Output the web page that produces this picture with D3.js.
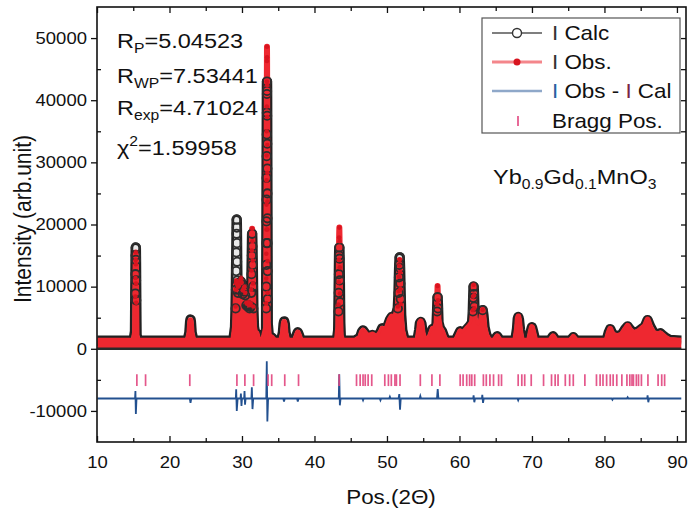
<!DOCTYPE html>
<html lang="en">
<head>
<meta charset="utf-8">
<title>Yb0.9Gd0.1MnO3 Rietveld refinement</title>
<script src="https://cdn.jsdelivr.net/npm/d3@7"></script>
<style>
  body { margin: 0; background: #fff; }
  svg { display: block; font-family: "Liberation Sans", Arial, sans-serif; }
  .axis text { font-size: 16.5px; fill: #111; }
  .axis line { stroke: #111; stroke-width: 1.3px; }
  .axis path { display: none; }
</style>
</head>
<body>
<script>

// ---- data ----
// 2theta sample points of the profile (one line per peak group)
var twoTheta = [
  10.05, 12, 14,
  15.05, 15.25, 15.27, 15.29, 15.31, 15.33, 15.35, 15.37, 15.39, 15.41, 15.43, 15.45, 15.65,
  17, 19, 21,
  22.5, 22.75, 22.85, 22.9, 22.95, 23.05, 23.3,
  25, 27, 28.5,
  28.8, 29.05, 29.12, 29.16, 29.19, 29.22, 29.25, 29.27, 29.29, 29.31, 29.33, 29.36, 29.45, 29.6, 29.75, 29.85, 29.95, 30.1, 30.25, 30.35, 30.45, 30.6, 30.8, 30.9, 31.05, 31.2, 31.28, 31.32, 31.36, 31.40, 31.44, 31.48, 31.52, 31.56, 31.65, 31.85, 32.0, 32.15, 32.35,
  32.9, 33.1, 33.33, 33.34, 33.35, 33.36, 33.37, 33.38, 33.39, 33.40, 33.41, 33.42, 33.43, 33.44, 33.45, 33.46, 33.47, 33.48, 33.49, 33.50, 33.51, 33.52, 33.53, 33.54, 33.55, 33.7, 34.1, 34.5,
  35.4, 35.65, 35.75, 35.82, 35.9, 36.0, 36.25, 37.3, 37.55, 37.7, 37.85, 38.1,
  40, 42,
  43.1, 43.28, 43.31, 43.34, 43.37, 43.40, 43.43, 43.46, 43.49, 43.52, 43.55, 43.62, 43.8,
  44.5,
  45.6, 46.3, 46.55, 46.7, 46.85, 47.2, 47.6, 48.0, 48.25, 48.6, 49.1, 49.35, 49.6, 50.0, 50.4, 50.65, 50.9, 51.2, 51.5, 51.6, 51.65, 51.7, 51.75, 51.8, 51.85, 51.9, 51.95, 52.1, 52.4, 52.8,
  54.2, 54.45, 54.55, 54.65, 54.75, 54.9, 55.2,
  55.6, 56.0, 56.3, 56.6, 56.85, 56.92, 56.98, 57.04, 57.1, 57.3, 57.6, 57.9, 58.2,
  59.5, 59.9, 60.1, 60.35, 60.7, 61.0, 61.4, 61.75, 61.85, 61.9, 61.95, 62.0, 62.05, 62.1, 62.3, 62.6, 62.95, 63.1, 63.2, 63.3, 63.45, 63.7, 64.1,
  64.8, 65.2, 65.6, 67.7, 67.95, 68.05, 68.12, 68.2, 68.35, 68.6, 69.6, 69.85, 70.0, 70.15, 70.45, 72.5, 72.9, 73.3, 75.3, 75.7, 76.1, 78, 80.3, 80.6, 80.8, 81.0, 81.3, 81.8, 82.4, 82.9, 83.2, 83.5, 84.0, 84.7, 85.6, 85.95, 86.3, 86.8, 87.4, 87.7, 88.0, 88.4, 89.0, 90.6
];

// calculated intensity
var iCalc = [
  1300, 1300, 1300,
  1300, 2800, 5800, 8900, 12000, 15000, 16300, 14300, 11000, 7800, 4600, 2200, 1300,
  1300, 1300, 1300,
  1300, 2600, 4300, 4700, 4300, 2600, 1300,
  1300, 1300, 1300,
  1300, 3500, 6500, 9500, 12500, 15500, 18500, 20800, 19500, 17000, 14000, 11000, 9000, 9500, 10500, 10800, 10200, 8800, 9200, 9500, 8600, 7000, 6800, 7000, 6500, 6800, 9000, 12000, 15000, 18500, 16500, 13500, 10000, 6500, 3500, 2200, 2500, 1800, 1300,
  1300, 2200, 3000, 6500, 10000, 13500, 17000, 20500, 24000, 27500, 31000, 34500, 38000, 41000, 43000, 41500, 37500, 33000, 29000, 25000, 21000, 17000, 12500, 8000, 4000, 2000, 1800, 1300,
  1300, 2600, 4000, 4400, 4000, 2600, 1300, 1300, 2200, 2650, 2200, 1300,
  1300, 1300,
  1300, 3000, 6000, 9000, 12000, 15000, 16300, 14500, 11000, 7500, 4200, 2000, 1300,
  1300,
  1300, 1800, 2700, 2950, 2700, 2100, 2000, 2200, 2100, 1800, 2600, 3300, 3100, 3300, 4600, 5100, 5000, 5200, 6500, 9000, 11500, 13500, 14700, 13000, 10500, 8000, 5500, 3000, 1500, 1300,
  1300, 3000, 4100, 4300, 4000, 2600, 1300,
  1300, 2200, 3200, 3000, 4000, 6000, 8300, 6500, 4200, 3300, 2800, 1800, 1300,
  1300, 2300, 2800, 2400, 2700, 3100, 3600, 4200, 6000, 8200, 10000, 8800, 6800, 5000, 4000, 3700, 4200, 5500, 6200, 5400, 3500, 2200, 1300,
  1300, 2000, 1300, 1300, 3200, 4800, 5100, 4700, 3000, 1300, 1300, 2800, 3450, 2800, 1300, 1300, 2000, 1300, 1300, 1850, 1300, 1300, 1300, 2600, 3150, 2600, 2200, 2000, 2300, 3200, 3600, 3100, 2500, 2800, 3600, 4600, 3600, 2500, 2300, 2500, 2200, 1800, 1400, 1300
];

// observed intensity
var iObs = [
  1300, 1300, 1300,
  1300, 2600, 5500, 8400, 11400, 14300, 15500, 13600, 10500, 7400, 4400, 2100, 1300,
  1300, 1300, 1300,
  1300, 2500, 4200, 4600, 4200, 2500, 1300,
  1300, 1300, 1300,
  1300, 3600, 6800, 9500, 10600, 10900, 10900, 10800, 10700, 10600, 10500, 10300, 10000, 10200, 11000, 11300, 10700, 9400, 9800, 10000, 9000, 7400, 7200, 7500, 7000, 7300, 9500, 12600, 15800, 19300, 17300, 14200, 10500, 6800, 3600, 2300, 2500, 1800, 1300,
  1300, 2300, 3400, 7300, 11300, 15300, 19200, 23200, 27100, 31100, 35000, 39000, 43000, 46300, 48600, 46900, 42400, 37300, 32800, 28300, 23700, 19200, 14100, 9000, 4500, 2100, 1800, 1300,
  1300, 2500, 3900, 4300, 3900, 2500, 1300, 1300, 2100, 2600, 2200, 1300,
  1300, 1300,
  1300, 3500, 7100, 10700, 14300, 17900, 19500, 17300, 13100, 8900, 5000, 2200, 1300,
  1300,
  1300, 1800, 2700, 2900, 2700, 2200, 2100, 2300, 2100, 1800, 2600, 3200, 3100, 3400, 4700, 5200, 5100, 5300, 6800, 9300, 11600, 13400, 14300, 12300, 9600, 7200, 5000, 2900, 1500, 1300,
  1300, 3100, 4200, 4400, 4100, 2600, 1300,
  1300, 2200, 3200, 3000, 4200, 7200, 10100, 7800, 4800, 3400, 2800, 1800, 1300,
  1300, 2300, 2800, 2400, 2800, 3200, 3700, 4300, 6200, 8400, 10300, 8600, 6500, 4800, 4000, 3700, 4300, 5700, 6300, 5300, 3400, 2200, 1300,
  1300, 2000, 1300, 1300, 3300, 4900, 5200, 4700, 3000, 1300, 1300, 2800, 3500, 2800, 1300, 1300, 2000, 1300, 1300, 1900, 1300, 1300, 1300, 2600, 3200, 2600, 2200, 2000, 2300, 3200, 3700, 3100, 2500, 2800, 3700, 4700, 3500, 2500, 2300, 2500, 2200, 1800, 1400, 1300
];

// Obs - Calc difference curve (drawn with offset)
var diffX = [
  10.05,
  15.25, 15.3, 15.36, 15.45,
  22.8, 22.9, 23.0,
  29.15, 29.2, 29.28, 29.4,
  29.8, 29.85, 29.93, 30.0,
  30.3, 30.35, 30.42, 30.5,
  31.3, 31.36, 31.45, 31.55,
  33.35, 33.42, 33.5, 33.6,
  35.7, 35.8, 35.9,
  37.6, 37.7, 37.8,
  43.35, 43.42, 43.5, 43.6,
  46.6, 46.7, 46.8,
  49.0, 49.1, 49.2,
  50.3, 50.4, 50.5,
  51.6, 51.7, 51.8, 51.9,
  54.5, 54.6, 54.7,
  56.9, 57.0, 57.1,
  61.9, 61.95, 62.05, 62.15,
  63.1, 63.15, 63.25, 63.35,
  68.0, 68.1, 68.2,
  81.0, 81.1, 81.2,
  83.1, 83.2, 83.3,
  85.9, 85.95, 86.05, 86.15,
  90.6
];
var diffY = [
  -8000,
  -8000, -6800, -10500, -8000,
  -8000, -8700, -8000,
  -8000, -6500, -10000, -8000,
  -8000, -7200, -9200, -8000,
  -8000, -6800, -9000, -8000,
  -8000, -6200, -9700, -8000,
  -8000, -2000, -11700, -8000,
  -8000, -8500, -8000,
  -8000, -8500, -8000,
  -8000, -4100, -9100, -8000,
  -8000, -8300, -8000,
  -8000, -8300, -8000,
  -8000, -7700, -8000,
  -8000, -7300, -9800, -8000,
  -8000, -7600, -8000,
  -8000, -6500, -8000,
  -8000, -7500, -8600, -8000,
  -8000, -7400, -8700, -8000,
  -8000, -8300, -8000,
  -8000, -8200, -8000,
  -8000, -7800, -8000,
  -8000, -7500, -8600, -8000,
  -8000
];

// Bragg reflection positions (2theta)
var braggPos = [
  15.5, 16.7, 22.8, 29.3, 30.4, 31.6, 33.6, 34.1, 35.9, 37.8,
  43.4, 45.8, 46.3, 46.7, 47.0, 47.4, 47.9, 49.7, 50.2, 50.6, 51.1, 51.3, 51.8,
  54.6, 56.2, 57.3, 60.1, 60.5, 61.0, 61.4, 61.7, 62.1, 63.3, 63.7,
  64.2, 64.7, 65.4, 65.8, 68.1, 68.6, 69.0, 69.9, 71.6, 72.7, 73.2, 73.6, 74.6, 75.2, 75.7, 77.3,
  78.9, 79.4, 79.8, 80.3, 80.8, 81.2, 81.7, 82.4, 83.1, 83.5, 83.8, 84.0, 84.4, 84.7, 85.1, 86.0, 87.4, 87.9, 88.3
];

var xTicks = [10, 20, 30, 40, 50, 60, 70, 80, 90];
var xMinor = [15, 25, 35, 45, 55, 65, 75, 85];
var yTicks = [-10000, 0, 10000, 20000, 30000, 40000, 50000];
var yMinor = [-5000, 5000, 15000, 25000, 35000, 45000];

var fitStats = [
  {main: "R", sub: "P", value: "=5.04523"},
  {main: "R", sub: "WP", value: "=7.53441"},
  {main: "R", sub: "exp", value: "=4.71024"}
];
var chiSq = "=1.59958";

// ---- drawing ----
var width = 689, height = 518;
var plot = {left: 97, right: 686, top: 7, bottom: 442};
var sx = 1.12; // glyphs in the reference are a bit wide

var svg = d3.select("body").append("svg")
    .attr("width", width)
    .attr("height", height);

var x = d3.scaleLinear().domain([10, 91.25]).range([plot.left, plot.right]);
var y = d3.scaleLinear().domain([-15000, 55000]).range([plot.bottom, plot.top]);

svg.append("clipPath").attr("id", "clip")
  .append("rect")
    .attr("x", plot.left).attr("y", plot.top)
    .attr("width", plot.right - plot.left).attr("height", plot.bottom - plot.top);

var g = svg.append("g").attr("clip-path", "url(#clip)");
var idx = d3.range(twoTheta.length);

var calcLine = d3.line().x(function(i){ return x(twoTheta[i]); }).y(function(i){ return y(iCalc[i]); });
var obsLine = d3.line().x(function(i){ return x(twoTheta[i]); }).y(function(i){ return y(iObs[i]); });
var obsArea = d3.area().x(function(i){ return x(twoTheta[i]); }).y0(y(0)).y1(function(i){ return y(iObs[i]); });

// calc outline + hollow centre
g.append("path").datum(idx).attr("d", calcLine)
    .attr("fill", "none").attr("stroke", "#222").attr("stroke-width", 10.5)
    .attr("stroke-linejoin", "round");
g.append("path").datum(idx).attr("d", calcLine)
    .attr("fill", "none").attr("stroke", "#e9e9e9").attr("stroke-width", 5)
    .attr("stroke-linejoin", "round");

// observed
g.append("path").datum(idx).attr("d", obsLine)
    .attr("fill", "none").attr("stroke", "#ee2830").attr("stroke-width", 6)
    .attr("stroke-linejoin", "round");
g.append("path").datum(idx).attr("d", obsArea)
    .attr("fill", "#ee2830");
g.append("line")
    .attr("x1", x(twoTheta[0])).attr("x2", x(twoTheta[twoTheta.length - 1]))
    .attr("y1", y(0)).attr("y2", y(0))
    .attr("stroke", "#2a2a2a").attr("stroke-width", 2.5);

// markers on the peak columns
g.selectAll(".calcPt")
    .data(idx.filter(function(i){ return iCalc[i] >= 6000; }))
  .enter().append("circle")
    .attr("class", "calcPt")
    .attr("cx", function(i){ return x(twoTheta[i]); })
    .attr("cy", function(i){ return y(iCalc[i]); })
    .attr("r", 4.2)
    .attr("fill", "none").attr("stroke", "#2e2e2e").attr("stroke-width", 1.8);

g.selectAll(".obsPt")
    .data(idx.filter(function(i){ return iObs[i] >= 6000; }))
  .enter().append("circle")
    .attr("class", "obsPt")
    .attr("cx", function(i){ return x(twoTheta[i]); })
    .attr("cy", function(i){ return y(iObs[i]); })
    .attr("r", 2.3)
    .attr("fill", "#d8141f");

// difference curve
var didx = d3.range(diffX.length);
g.append("path").datum(didx)
    .attr("d", d3.line().x(function(i){ return x(diffX[i]); }).y(function(i){ return y(diffY[i]); }))
    .attr("fill", "none").attr("stroke", "#22508f").attr("stroke-width", 1.8);

// Bragg positions
g.selectAll(".bragg")
    .data(braggPos)
  .enter().append("line")
    .attr("class", "bragg")
    .attr("x1", function(d){ return x(d); }).attr("x2", function(d){ return x(d); })
    .attr("y1", y(-4100)).attr("y2", y(-6000))
    .attr("stroke", "#e2457f").attr("stroke-width", 1.7).attr("opacity", 0.9);

// ---- axes ----
var plain = function(d){ return String(d); };

var axB = svg.append("g").attr("class", "axis").attr("transform", "translate(0," + plot.bottom + ")")
    .call(d3.axisBottom(x).tickValues(xTicks).tickSizeInner(-6).tickSizeOuter(0).tickPadding(14).tickFormat(plain));
axB.selectAll("text").attr("transform", "scale(" + sx + ",1)");
svg.append("g").attr("class", "axis").attr("transform", "translate(0," + plot.bottom + ")")
    .call(d3.axisBottom(x).tickValues(xMinor).tickSizeInner(-4).tickSizeOuter(0).tickFormat(""));
svg.append("g").attr("class", "axis").attr("transform", "translate(0," + plot.top + ")")
    .call(d3.axisTop(x).tickValues(xTicks).tickSizeInner(-6).tickSizeOuter(0).tickFormat(""));
svg.append("g").attr("class", "axis").attr("transform", "translate(0," + plot.top + ")")
    .call(d3.axisTop(x).tickValues(xMinor).tickSizeInner(-4).tickSizeOuter(0).tickFormat(""));

var axL = svg.append("g").attr("class", "axis").attr("transform", "translate(" + plot.left + ",0)")
    .call(d3.axisLeft(y).tickValues(yTicks).tickSizeInner(6).tickSizeOuter(0).tickPadding(3).tickFormat(plain));
axL.selectAll("text").attr("transform", "scale(" + sx + ",1)");
svg.append("g").attr("class", "axis").attr("transform", "translate(" + plot.left + ",0)")
    .call(d3.axisLeft(y).tickValues(yMinor).tickSizeInner(-4).tickSizeOuter(0).tickFormat(""));
svg.append("g").attr("class", "axis").attr("transform", "translate(" + plot.right + ",0)")
    .call(d3.axisRight(y).tickValues(yTicks.concat(yMinor)).tickSizeInner(-5).tickSizeOuter(0).tickFormat(""));

svg.append("rect")
    .attr("x", plot.left).attr("y", plot.top)
    .attr("width", plot.right - plot.left).attr("height", plot.bottom - plot.top)
    .attr("fill", "none").attr("stroke", "#111").attr("stroke-width", 1.6);

// axis titles
svg.append("text")
    .attr("transform", "translate(391,504) scale(" + sx + ",1)")
    .attr("text-anchor", "middle").attr("font-size", 20).attr("fill", "#111")
    .text("Pos.(2\u0398)");
svg.append("text")
    .attr("transform", "translate(31,219) rotate(-90) scale(1," + sx + ")")
    .attr("text-anchor", "middle").attr("font-size", 21).attr("fill", "#111")
    .text("Intensity (arb.unit)");

// refinement statistics
var statY = [48, 83, 115];
fitStats.forEach(function(s, k){
  var t = svg.append("text")
      .attr("transform", "translate(117," + statY[k] + ") scale(" + sx + ",1)")
      .attr("font-size", 21).attr("fill", "#111");
  t.append("tspan").text(s.main);
  t.append("tspan").attr("font-size", 14).attr("dy", 5).text(s.sub);
  t.append("tspan").attr("dy", -5).text(s.value);
});
var chi = svg.append("text")
    .attr("transform", "translate(117,155) scale(" + sx + ",1)")
    .attr("font-size", 21).attr("fill", "#111");
chi.append("tspan").text("\u03c7");
chi.append("tspan").attr("font-size", 14).attr("dy", -9).text("2");
chi.append("tspan").attr("dy", 9).text(chiSq);

// compound label
var comp = svg.append("text")
    .attr("transform", "translate(493,184) scale(" + sx + ",1)")
    .attr("font-size", 21).attr("fill", "#111");
[["Yb", 0], ["0.9", 1], ["Gd", 0], ["0.1", 1], ["MnO", 0], ["3", 1]].forEach(function(p, k, arr){
  var prev = k > 0 ? arr[k - 1][1] : 0;
  comp.append("tspan")
      .attr("font-size", p[1] ? 14 : 21)
      .attr("dy", (p[1] - prev) * 5)
      .text(p[0]);
});

// ---- legend ----
var leg = svg.append("g");
leg.append("rect")
    .attr("x", 482).attr("y", 18).attr("width", 198).attr("height", 115)
    .attr("fill", "#fff").attr("stroke", "#555").attr("stroke-width", 1.2);

var legRows = [33, 62, 91, 121];
leg.append("line").attr("x1", 492).attr("x2", 542).attr("y1", legRows[0]).attr("y2", legRows[0])
    .attr("stroke", "#555").attr("stroke-width", 1.3);
leg.append("circle").attr("cx", 517).attr("cy", legRows[0]).attr("r", 4.5)
    .attr("fill", "#fff").attr("stroke", "#333").attr("stroke-width", 1.4);
leg.append("line").attr("x1", 492).attr("x2", 542).attr("y1", legRows[1]).attr("y2", legRows[1])
    .attr("stroke", "#f4868b").attr("stroke-width", 3);
leg.append("circle").attr("cx", 517).attr("cy", legRows[1]).attr("r", 3.5)
    .attr("fill", "#d8141f");
leg.append("line").attr("x1", 492).attr("x2", 542).attr("y1", legRows[2]).attr("y2", legRows[2])
    .attr("stroke", "#8fa8c9").attr("stroke-width", 2.5);
leg.append("line").attr("x1", 518).attr("x2", 518).attr("y1", legRows[3] - 5).attr("y2", legRows[3] + 5)
    .attr("stroke", "#e2457f").attr("stroke-width", 1.6);

var legText = [
  [["I", "#333"], [" Calc", "#111"]],
  [["I", "#333"], [" Obs.", "#111"]],
  [["I", "#2a5fa0"], [" Obs - ", "#111"], ["I", "#7a2445"], [" Cal", "#111"]],
  [["Bragg Pos.", "#111"]]
];
legText.forEach(function(parts, k){
  var t = leg.append("text")
      .attr("transform", "translate(552," + (legRows[k] + 7) + ") scale(" + sx + ",1)")
      .attr("font-size", 20);
  parts.forEach(function(p){
    t.append("tspan").attr("fill", p[1]).text(p[0]);
  });
});

</script>
</body>
</html>
